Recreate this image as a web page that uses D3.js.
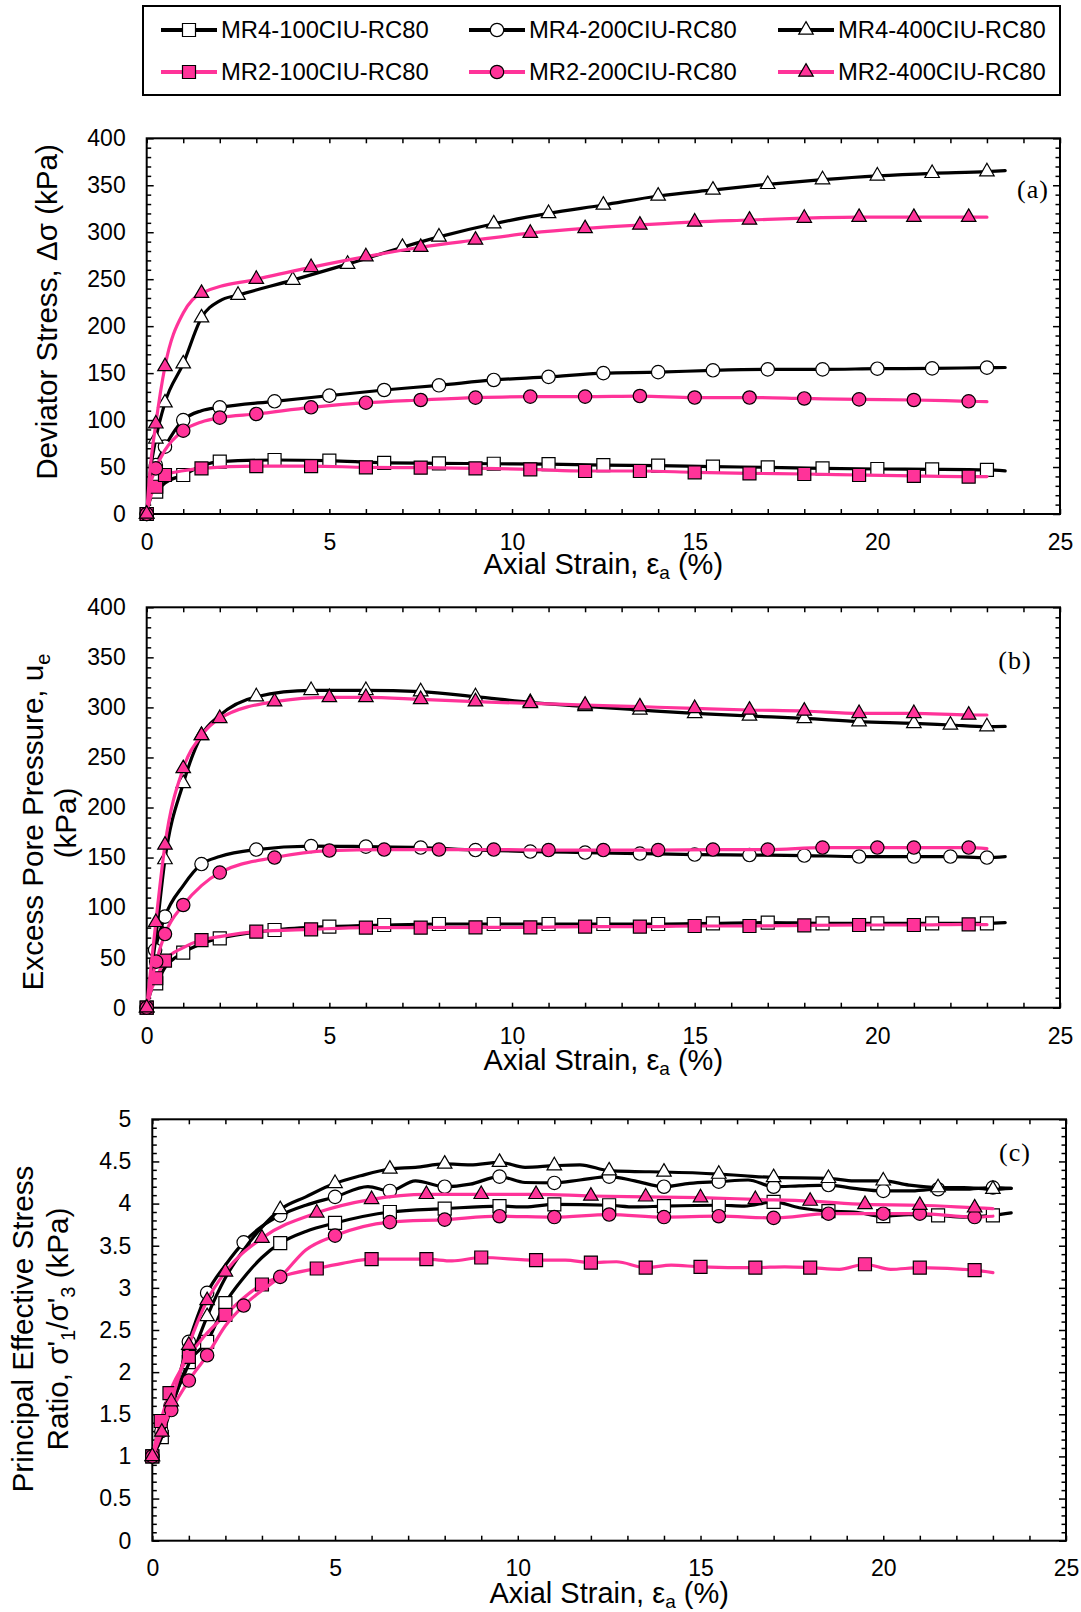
<!DOCTYPE html>
<html><head><meta charset="utf-8">
<script src="https://cdn.jsdelivr.net/npm/d3@7"></script>
<style>
body{margin:0;background:#fff}
text{font-family:"Liberation Sans",Arial,sans-serif;fill:#000}
</style>
</head><body>
<svg id="chart" width="1081" height="1612"></svg>
<script>
// ---------------- DATA (strain %, value) ----------------
// mk = points carrying a marker, ln = extra curve-only points
const seriesNames = ["MR4-100CIU-RC80","MR4-200CIU-RC80","MR4-400CIU-RC80","MR2-100CIU-RC80","MR2-200CIU-RC80","MR2-400CIU-RC80"];
const xTicks = [0,5,10,15,20,25];

// Panel (a) deviator stress (kPa)
const a_MR4_100_mk = [[0,0],[0.26,23.8],[1,41.5],[2,55.7],[3.5,57.5],[5,56.8],[6.5,54.5],[8,54],[9.5,53.5],[11,53],[12.5,52],[14,51.5],[15.5,50.4],[17,49.7],[18.5,48.6],[20,47.9],[21.5,47.6],[23,46.9]];
const a_MR4_100_ln = [[0.1,16],[0.5,33],[1.5,51],[23.5,46]];
const a_MR4_200_mk = [[0,0],[0.25,52],[0.5,71.7],[1,100],[2,113.6],[3.5,120],[5,126],[6.5,132],[8,137],[9.5,142.7],[11,146],[12.5,150],[14,151],[15.5,153],[17,154],[18.5,154],[20,154.7],[21.5,155],[23,155.8]];
const a_MR4_200_ln = [[0.1,35],[1.5,110],[23.5,156]];
const a_MR4_400_mk = [[0,0],[0.25,80],[0.5,118.5],[1,160],[1.5,209],[2.5,233],[4,249],[5.5,266],[7,284],[8,295],[9.5,309],[11,320],[12.5,329],[14,338.6],[15.5,345],[17,351],[18.5,356],[20,360],[21.5,362.7],[23,364.5]];
const a_MR4_400_ln = [[0.1,45],[2,227],[23.5,365.6]];
const a_MR2_100_mk = [[0,0],[0.26,29],[0.5,41.5],[1.5,48.6],[3,51],[4.5,51],[6,49.7],[7.5,49.3],[9,48.6],[10.5,47.6],[12,45.8],[13.5,45.8],[15,44.4],[16.5,43.3],[18,42.6],[19.5,41.5],[21,40.5],[22.5,39.8]];
const a_MR2_100_ln = [[0.12,20],[1,46],[23,39.8]];
const a_MR2_200_mk = [[0,0],[0.25,48.6],[1,88.7],[2,102.6],[3,106.5],[4.5,113.6],[6,118.5],[7.5,121.4],[9,123.9],[10.5,125],[12,125],[13.5,125.6],[15,124],[16.5,124],[18,123],[19.5,122],[21,121.4],[22.5,120]];
const a_MR2_200_ln = [[0.1,30],[0.5,68],[1.5,98],[23,119.6]];
const a_MR2_400_mk = [[0,0],[0.25,96],[0.5,157],[1.5,235],[3,250],[4.5,262.6],[6,274],[7.5,284],[9,291.7],[10.5,299],[12,304],[13.5,307.7],[15,311],[16.5,313],[18,315],[19.5,316],[21,316],[22.5,316]];
const a_MR2_400_ln = [[0.1,50],[1,214],[1.25,228],[23,316]];

// Panel (b) excess pore pressure (kPa)
const b_MR4_100_mk = [[0,0],[0.26,24.3],[1,55],[2,69.3],[3.5,77.6],[5,81],[6.5,82.6],[8,83.6],[9.5,83.6],[11,83.6],[12.5,83.6],[14,83.6],[15.5,84.3],[17,85],[18.5,84.3],[20,84.3],[21.5,84.3],[23,84.3]];
const b_MR4_100_ln = [[0.1,15],[0.5,40],[1.5,64],[23.5,85]];
const b_MR4_200_mk = [[0,0],[0.23,57.6],[0.5,91],[1.5,143.5],[3,158],[4.5,161.5],[6,160.9],[7.5,160],[9,157.5],[10.5,156],[12,155],[13.5,154],[15,153],[16.5,152.5],[18,152],[19.5,151],[21,151],[22,151],[23,150]];
const b_MR4_200_ln = [[0.1,30],[1,122],[2,151],[23.5,151]];
const b_MR4_400_mk = [[0,0],[0.5,148],[1,224],[1.5,272],[3,310.7],[4.5,317],[6,317],[7.5,315.7],[9,310.7],[10.5,305],[12,301],[13.5,297.4],[15,294],[16.5,291.4],[18,289],[19.5,285.8],[21,284],[22,282.4],[23,280.8]];
const b_MR4_400_ln = [[0.25,70],[2,292],[23.5,281]];
const b_MR2_100_mk = [[0,0],[0.26,29.4],[0.5,47],[1.5,67.6],[3,76],[4.5,78.3],[6,80],[7.5,80],[9,80.3],[10.5,80.3],[12,81],[13.5,81],[15,81.6],[16.5,81.6],[18,82.3],[19.5,82.6],[21,82.6],[22.5,83.3]];
const b_MR2_100_ln = [[0.1,15],[1,60],[2,71],[23,83]];
const b_MR2_200_mk = [[0,0],[0.26,46],[0.5,73.6],[1,102.6],[2,135],[3.5,150],[5,157],[6.5,158],[8,158],[9.5,158],[11,157.5],[12.5,157.5],[14,157.5],[15.5,158],[17,158],[18.5,160],[20,160],[21,160],[22.5,160]];
const b_MR2_200_ln = [[0.1,22],[1.5,122],[23,159]];
const b_MR2_400_mk = [[0,0],[0.25,85.3],[0.5,162.5],[1,239],[1.5,272],[2,289],[3.5,305.7],[5,310],[6,310],[7.5,308],[9,305.7],[10.5,304],[12,302.4],[13.5,300.7],[15,299],[16.5,297.4],[18,296.4],[19.5,294],[21,294],[22.5,292.4]];
const b_MR2_400_ln = [[0.1,35],[23,292.4]];

// Panel (c) principal effective stress ratio
const c_MR4_100_mk = [[0,1],[0.26,1.23],[1,2.12],[1.5,2.36],[2,2.82],[3.5,3.53],[5,3.77],[6.5,3.9],[8,3.94],[9.5,3.97],[11,3.99],[12.5,3.98],[14,3.97],[15.5,3.98],[17,4.02],[18.5,3.91],[20,3.85],[21.5,3.86],[23,3.86]];
const c_MR4_100_ln = [[0.5,1.55],[2.5,3.12],[3,3.36],[4.2,3.67],[10.2,3.96],[13.2,3.96],[16.2,3.97],[17.7,3.95],[19.2,3.9],[20.7,3.87],[22.2,3.84],[23.5,3.89]];
const c_MR4_200_mk = [[0,1],[0.25,1.3],[0.5,1.6],[1,2.36],[1.5,2.94],[2.5,3.54],[3.5,3.86],[5,4.08],[6.5,4.15],[8,4.2],[9.5,4.32],[11,4.245],[12.5,4.32],[14,4.2],[15.5,4.26],[17,4.2],[18.5,4.22],[20,4.15],[21.5,4.17],[23,4.19]];
const c_MR4_200_ln = [[2,3.27],[3,3.73],[4.2,3.98],[5.9,4.2],[7.2,4.27],[8.7,4.23],[10.2,4.25],[11.7,4.28],[13.2,4.27],[14.7,4.24],[16.3,4.28],[17.7,4.21],[19.2,4.18],[20.7,4.15],[22.2,4.17],[23.5,4.18]];
const c_MR4_400_mk = [[0,1],[1.5,2.66],[3.5,3.93],[5,4.24],[6.5,4.41],[8,4.47],[9.5,4.49],[11,4.45],[12.5,4.39],[14,4.375],[15.5,4.35],[17,4.31],[18.5,4.3],[20,4.27],[21.5,4.19],[23,4.17]];
const c_MR4_400_ln = [[0.25,1.22],[0.5,1.58],[1,2.1],[2,3.12],[2.5,3.45],[3,3.72],[4.2,4.08],[5.7,4.33],[7.2,4.43],[8.7,4.46],[10.2,4.43],[11.7,4.46],[13.2,4.38],[16.2,4.33],[19.2,4.27],[20.7,4.22],[22.2,4.19],[23.5,4.18]];
const c_MR2_100_mk = [[0,1],[0.23,1.42],[0.47,1.75],[1,2.18],[2,2.68],[3,3.04],[4.5,3.23],[6,3.34],[7.5,3.34],[9,3.36],[10.5,3.33],[12,3.3],[13.5,3.24],[15,3.25],[16.5,3.24],[18,3.24],[19.5,3.28],[21,3.24],[22.5,3.21]];
const c_MR2_100_ln = [[3.5,3.13],[5.2,3.29],[8.2,3.32],[11.3,3.33],[12.7,3.31],[14.2,3.27],[17.3,3.25],[18.8,3.22],[20.2,3.22],[23,3.18]];
const c_MR2_200_mk = [[0,1],[0.52,1.55],[1,1.9],[1.5,2.2],[2.5,2.79],[3.5,3.13],[5,3.62],[6.5,3.78],[8,3.81],[9.5,3.85],[11,3.84],[12.5,3.87],[14,3.84],[15.5,3.85],[17,3.83],[18.5,3.88],[20,3.88],[21,3.88],[22.5,3.84]];
const c_MR2_200_ln = [[0.25,1.3],[2,2.55],[3,2.97],[4.2,3.45],[23,3.85]];
const c_MR2_400_mk = [[0,1],[0.26,1.29],[0.52,1.65],[1,2.32],[1.5,2.85],[2,3.19],[3,3.59],[4.5,3.89],[6,4.05],[7.5,4.11],[9,4.11],[10.5,4.11],[12,4.09],[13.5,4.08],[15,4.07],[16.5,4.05],[18,4.03],[19.5,3.99],[21,3.98],[22.5,3.95]];
const c_MR2_400_ln = [[23,3.94]];

// ---------------- STYLE ----------------
const PINK = "#FF3399";
const styles = [
  {color:"#000", fill:"#fff", shape:"square"},
  {color:"#000", fill:"#fff", shape:"circle"},
  {color:"#000", fill:"#fff", shape:"triangle"},
  {color:PINK, fill:PINK, shape:"square"},
  {color:PINK, fill:PINK, shape:"circle"},
  {color:PINK, fill:PINK, shape:"triangle"}
];
const symbolFor = {
  square: d3.symbol(d3.symbolSquare, 13*13)(),
  circle: d3.symbol(d3.symbolCircle, Math.PI*6.7*6.7)(),
  triangle: d3.symbol(d3.symbolTriangle, 0.433*14.5*14.5)()
};

const svg = d3.select("#chart");
const FONT = '"Liberation Sans",Arial,sans-serif';

function merge(mk, ln){ return mk.concat(ln).sort((p,q)=>p[0]-q[0]); }

const panels = [
  {left:146.7,right:1060,top:138.3,bottom:514, ymax:400, major:50, minor:10, fmt:d=>d,
   letter:"(a)", lx:1033, ly:189, xtitleY:574, xpad:20,
   data:[[a_MR4_100_mk,a_MR4_100_ln],[a_MR4_200_mk,a_MR4_200_ln],[a_MR4_400_mk,a_MR4_400_ln],[a_MR2_100_mk,a_MR2_100_ln],[a_MR2_200_mk,a_MR2_200_ln],[a_MR2_400_mk,a_MR2_400_ln]]},
  {left:146.7,right:1060,top:607.3,bottom:1007.7, ymax:400, major:50, minor:10, fmt:d=>d,
   letter:"(b)", lx:1015, ly:660, xtitleY:1070, xpad:20,
   data:[[b_MR4_100_mk,b_MR4_100_ln],[b_MR4_200_mk,b_MR4_200_ln],[b_MR4_400_mk,b_MR4_400_ln],[b_MR2_100_mk,b_MR2_100_ln],[b_MR2_200_mk,b_MR2_200_ln],[b_MR2_400_mk,b_MR2_400_ln]]},
  {left:152.3,right:1066,top:1119.3,bottom:1540.7, ymax:5, major:0.5, minor:0.1, fmt:d=>String(+d.toFixed(1)),
   letter:"(c)", lx:1015, ly:1152, xtitleY:1603, xpad:19,
   data:[[c_MR4_100_mk,c_MR4_100_ln],[c_MR4_200_mk,c_MR4_200_ln],[c_MR4_400_mk,c_MR4_400_ln],[c_MR2_100_mk,c_MR2_100_ln],[c_MR2_200_mk,c_MR2_200_ln],[c_MR2_400_mk,c_MR2_400_ln]]}
];

function styleAxis(g){
  g.select(".domain").remove();
  g.selectAll("line").attr("stroke","#000").attr("stroke-width",1.5);
  g.attr("font-size",23).attr("font-family",FONT);
  g.selectAll("text").attr("fill","#000");
}

panels.forEach(p=>{
  const x = d3.scaleLinear().domain([0,25]).range([p.left,p.right]);
  const y = d3.scaleLinear().domain([0,p.ymax]).range([p.bottom,p.top]);
  const nMaj = Math.round(p.ymax/p.major), nMin = Math.round(p.ymax/p.minor);
  const majV = d3.range(nMaj+1).map(i=>+(i*p.major).toFixed(3));
  const minV = d3.range(nMin+1).map(i=>+(i*p.minor).toFixed(3)).filter(v=>Math.abs(v/p.major-Math.round(v/p.major))>1e-6);
  const xInt = d3.range(26);

  svg.append("g").attr("transform",`translate(0,${p.bottom})`)
    .call(d3.axisBottom(x).tickValues(xInt).tickSizeInner(-5).tickSizeOuter(0).tickPadding(p.xpad)
      .tickFormat(d=> xTicks.includes(d)? d : "")).call(styleAxis);
  svg.append("g").attr("transform",`translate(0,${p.top})`)
    .call(d3.axisTop(x).tickValues(xInt).tickSizeInner(-5).tickSizeOuter(0).tickFormat("")).call(styleAxis);
  svg.append("g").attr("transform",`translate(${p.left},0)`)
    .call(d3.axisLeft(y).tickValues(majV).tickSizeInner(-7).tickSizeOuter(0).tickPadding(21).tickFormat(p.fmt)).call(styleAxis);
  svg.append("g").attr("transform",`translate(${p.left},0)`)
    .call(d3.axisLeft(y).tickValues(minV).tickSizeInner(-4.5).tickSizeOuter(0).tickFormat("")).call(styleAxis);
  svg.append("g").attr("transform",`translate(${p.right},0)`)
    .call(d3.axisRight(y).tickValues(majV).tickSizeInner(-7).tickSizeOuter(0).tickFormat("")).call(styleAxis);
  svg.append("g").attr("transform",`translate(${p.right},0)`)
    .call(d3.axisRight(y).tickValues(minV).tickSizeInner(-4.5).tickSizeOuter(0).tickFormat("")).call(styleAxis);

  svg.append("rect").attr("x",p.left).attr("y",p.top).attr("width",p.right-p.left).attr("height",p.bottom-p.top)
    .attr("fill","none").attr("stroke","#000").attr("stroke-width",2);

  const line = d3.line().x(d=>x(d[0])).y(d=>y(d[1])).curve(d3.curveMonotoneX);
  p.data.forEach((s,i)=>{
    const st = styles[i];
    const g = svg.append("g");
    g.append("path").attr("d",line(merge(s[0],s[1]))).attr("fill","none")
      .attr("stroke",st.color).attr("stroke-width",3.2).attr("stroke-linejoin","round").attr("stroke-linecap","round");
    g.selectAll("path.m").data(s[0]).join("path").attr("class","m")
      .attr("d",symbolFor[st.shape])
      .attr("transform",d=>`translate(${x(d[0])},${y(d[1])})`)
      .attr("fill",st.fill).attr("stroke","#000").attr("stroke-width",1.2);
  });

  svg.append("text").attr("x",p.lx).attr("y",p.ly).attr("dy","0.35em").attr("text-anchor","middle")
    .style("font-family",'"Liberation Serif","Times New Roman",serif').attr("font-size",26)
    .attr("letter-spacing",1).text(p.letter);

  const xt = svg.append("text").attr("x",(p.left+p.right)/2).attr("y",p.xtitleY).attr("text-anchor","middle").attr("font-size",29);
  xt.append("tspan").text("Axial Strain, ε");
  xt.append("tspan").attr("font-size",19).attr("dy",5).text("a");
  xt.append("tspan").attr("dy",-5).text(" (%)");
});

// y titles
svg.append("text").attr("transform","translate(57,312) rotate(-90)").attr("text-anchor","middle").attr("font-size",29.6)
  .text("Deviator Stress, Δσ (kPa)");
const t2 = svg.append("text").attr("transform","translate(42.5,822) rotate(-90)").attr("text-anchor","middle").attr("font-size",29.6);
t2.append("tspan").text("Excess Pore Pressure, u");
t2.append("tspan").attr("font-size",20).attr("dy",7).text("e");
svg.append("text").attr("transform","translate(76,823) rotate(-90)").attr("text-anchor","middle").attr("font-size",29.6).text("(kPa)");
svg.append("text").attr("transform","translate(33,1329) rotate(-90)").attr("text-anchor","middle").attr("font-size",29.6)
  .text("Principal Effective Stress");
const t4 = svg.append("text").attr("transform","translate(67.5,1329) rotate(-90)").attr("text-anchor","middle").attr("font-size",29.6);
t4.append("tspan").text("Ratio, σ'");
t4.append("tspan").attr("font-size",20).attr("dy",7).text("1");
t4.append("tspan").attr("dy",-7).text("/σ'");
t4.append("tspan").attr("font-size",20).attr("dy",7).text("3");
t4.append("tspan").attr("dy",-7).text(" (kPa)");

// legend
svg.append("rect").attr("x",143).attr("y",6).attr("width",917).attr("height",89)
  .attr("fill","#fff").attr("stroke","#000").attr("stroke-width",2);
const legCols = [161,469,778], legRows = [30,72];
seriesNames.forEach((name,i)=>{
  const st = styles[i];
  const x0 = legCols[i%3], yy = legRows[Math.floor(i/3)];
  const g = svg.append("g");
  g.append("line").attr("x1",x0).attr("x2",x0+56).attr("y1",yy).attr("y2",yy)
    .attr("stroke",st.color).attr("stroke-width",4);
  g.append("path").attr("d",symbolFor[st.shape]).attr("transform",`translate(${x0+28},${yy})`)
    .attr("fill",st.fill).attr("stroke","#000").attr("stroke-width",1.2);
  g.append("text").attr("x",x0+60).attr("y",yy).attr("dy","0.35em").attr("font-size",23.8).text(name);
});
</script>
</body></html>
